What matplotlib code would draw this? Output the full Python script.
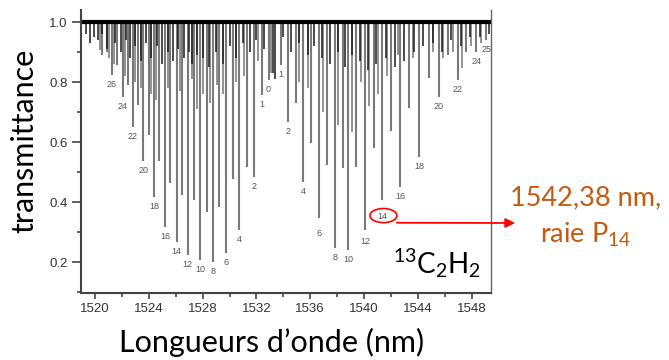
import matplotlib
matplotlib.use('Agg')
import matplotlib.pyplot as plt
from matplotlib.patches import Ellipse

# R branch (short wavelengths), J = 0..28
r_j = list(range(29))
r_wl = [1532.90, 1532.39, 1531.80, 1531.27, 1530.72, 1530.25, 1529.75, 1529.25,
        1528.78, 1528.33, 1527.84, 1527.39, 1526.89, 1526.47, 1526.07, 1525.60,
        1525.22, 1524.78, 1524.38, 1523.98, 1523.60, 1523.19, 1522.79, 1522.44,
        1522.06, 1521.67, 1521.25, 1520.90, 1520.50]
r_tr = [0.807, 0.757, 0.484, 0.518, 0.307, 0.477, 0.229, 0.384,
        0.201, 0.368, 0.207, 0.407, 0.223, 0.423, 0.268, 0.462,
        0.318, 0.538, 0.418, 0.623, 0.538, 0.723, 0.651, 0.790,
        0.751, 0.857, 0.823, 0.900, 0.890]
r_labelled = [0, 1, 2, 4, 6, 8, 10, 12, 14, 16, 18, 20, 22, 24, 26]

# P branch (long wavelengths), J = 1..25
p_j = list(range(1, 26))
p_wl = [1533.81, 1534.38, 1534.93, 1535.50, 1536.04, 1536.64, 1537.24, 1537.86,
        1538.41, 1538.83, 1539.43, 1540.07, 1540.72, 1541.34, 1542.00, 1542.69,
        1543.38, 1544.08, 1544.80, 1545.54, 1546.24, 1546.96, 1547.60, 1548.36,
        1549.10]
p_tr = [0.857, 0.668, 0.730, 0.468, 0.597, 0.347, 0.523, 0.246,
        0.513, 0.240, 0.518, 0.307, 0.579, 0.407, 0.637, 0.451,
        0.712, 0.551, 0.812, 0.751, 0.890, 0.807, 0.900, 0.900,
        0.940]
p_labelled = [1, 2, 4, 6, 8, 10, 12, 14, 16, 18, 20, 22, 24, 25]

# weaker (hot band) lines, grey, medium depth
sec_wl = [1520.37, 1521.02, 1521.45, 1522.25, 1522.95, 1523.40, 1524.15, 1524.55,
          1525.40, 1526.30, 1527.19, 1527.56, 1528.05, 1528.55, 1529.05, 1529.50,
          1530.45, 1531.05, 1532.10, 1533.05, 1535.20, 1535.80, 1536.98, 1538.09,
          1539.09, 1539.76, 1540.40, 1541.05, 1541.70, 1542.55, 1543.67, 1545.10,
          1545.90, 1546.60, 1547.26, 1547.95, 1548.70]
sec_tr = [0.907, 0.880, 0.860, 0.820, 0.800, 0.780, 0.760, 0.740,
          0.780, 0.770, 0.810, 0.710, 0.760, 0.730, 0.790, 0.760,
          0.800, 0.820, 0.870, 0.830, 0.800, 0.780, 0.700, 0.657,
          0.634, 0.800, 0.720, 0.760, 0.820, 0.890, 0.879, 0.900,
          0.880, 0.900, 0.846, 0.920, 0.930]

# very weak lines crowding the baseline, black
hot_wl = [1519.30, 1519.60, 1519.90, 1520.20, 1520.50, 1520.90, 1521.50, 1521.90,
          1522.30, 1522.60, 1523.00, 1523.40, 1523.80, 1524.20, 1524.60, 1525.00,
          1525.40, 1525.80, 1526.20, 1526.60, 1527.00, 1527.20, 1527.60, 1528.00,
          1528.50, 1529.00, 1529.50, 1530.00, 1530.50, 1531.00, 1531.50, 1532.00,
          1532.60, 1533.20, 1533.35, 1534.00, 1534.60, 1535.20, 1535.80, 1536.30,
          1536.90, 1537.50, 1538.10, 1538.60, 1539.10, 1539.70, 1540.30, 1540.90,
          1541.60, 1542.30, 1543.00, 1543.70, 1544.40, 1545.10, 1545.80, 1546.50,
          1547.20, 1547.90, 1548.60, 1549.30]
hot_tr = [0.96, 0.93, 0.95, 0.94, 0.96, 0.91, 0.93, 0.90,
          0.94, 0.88, 0.92, 0.87, 0.93, 0.88, 0.92, 0.86,
          0.90, 0.87, 0.91, 0.88, 0.90, 0.86, 0.89, 0.88,
          0.85, 0.90, 0.86, 0.92, 0.88, 0.93, 0.90, 0.94,
          0.91, 0.83, 0.81, 0.95, 0.90, 0.93, 0.89, 0.92,
          0.88, 0.86, 0.90, 0.85, 0.89, 0.87, 0.84, 0.86,
          0.88, 0.85, 0.87, 0.90, 0.92, 0.93, 0.90, 0.94,
          0.92, 0.95, 0.95, 0.96]

x_ticks = [1520, 1524, 1528, 1532, 1536, 1540, 1544, 1548]
y_ticks = [0.2, 0.4, 0.6, 0.8, 1.0]

W, H = 669, 360
fig = plt.figure(figsize=(W / 100, H / 100), dpi=100)
ax = fig.add_axes([81 / W, 1 - 293 / H, 410 / W, 283 / H])

ax.vlines(sec_wl, sec_tr, 1.0, color='#8a8a8a', lw=1.3)
ax.vlines(r_wl, r_tr, 1.0, color='#7a7a7a', lw=1.5)
ax.vlines(p_wl, p_tr, 1.0, color='#7a7a7a', lw=1.5)
ax.vlines(hot_wl, hot_tr, 1.0, color='#1a1a1a', lw=1.1)
ax.axhline(1.0, color='black', lw=3)

extra_drop = {('P', 14): -9, ('P', 6): -8, ('P', 12): -5}
for branch, js, wls, trs, lab in [('R', r_j, r_wl, r_tr, r_labelled),
                                  ('P', p_j, p_wl, p_tr, p_labelled)]:
    for j, wl, tr in zip(js, wls, trs):
        if j in lab:
            dy = extra_drop.get((branch, j), -3.5)
            ax.annotate(str(j), (wl, tr), xytext=(0, dy), textcoords='offset points',
                        ha='center', va='top', fontsize=6.5, color='#555555',
                        family='Liberation Sans')

ax.set_xlim(1518.96, 1549.44)
ax.set_ylim(0.097, 1.04)
ax.set_xticks(x_ticks)
ax.set_xticks(range(1520, 1550, 2), minor=True)
ax.set_yticks(y_ticks)
ax.set_yticks([0.1, 0.3, 0.5, 0.7, 0.9], minor=True)
ax.set_yticklabels(['%.1f' % v for v in y_ticks])
for lbl in ax.get_xticklabels() + ax.get_yticklabels():
    lbl.set_family('Liberation Sans')
    lbl.set_fontsize(9.5)
    lbl.set_color('#333333')
ax.tick_params(axis='x', which='major', length=4.5, width=1.2, color='#444444', pad=3)
ax.tick_params(axis='x', which='minor', length=3, width=1.2, color='#444444')
ax.tick_params(axis='y', which='major', length=6.5, width=1.2, color='#444444', pad=3)
ax.tick_params(axis='y', which='minor', length=3, width=1.2, color='#444444')
ax.spines['top'].set_visible(False)
ax.spines['left'].set_linewidth(1.5)
ax.spines['bottom'].set_linewidth(1.5)
ax.spines['left'].set_color('#444444')
ax.spines['bottom'].set_color('#444444')
ax.spines['right'].set_color('#666666')
ax.spines['right'].set_linewidth(1.0)

# highlighted line P14
i14 = p_j.index(14)
ax.add_patch(Ellipse((p_wl[i14] + 0.1, p_tr[i14] - 0.052), 2.0, 0.047,
                     fill=False, ec='red', lw=1.2))
ax.annotate('', xy=(515 / W, 1 - 223 / H), xycoords='figure fraction',
            xytext=(p_wl[i14] + 1.1, p_tr[i14] - 0.076), textcoords='data',
            arrowprops=dict(arrowstyle='-|>', color='red', lw=1.3,
                            mutation_scale=14, shrinkA=0, shrinkB=0))

orange = '#C55A11'
fig.text(586 / W, 1 - 205 / H, '1542,38 nm,', ha='center', va='baseline',
         color=orange, fontsize=19.5, family='Lato')
fig.text(586 / W, 1 - 243 / H, r'raie P$\mathregular{_{14}}$', ha='center',
         va='baseline', color=orange, fontsize=19.5, family='Lato')
fig.text(393 / W, 1 - 273 / H, r'$\mathregular{^{13}C_2H_2}$', ha='left',
         va='baseline', color='black', fontsize=20, family='Lato')

fig.text(24 / W, 1 - 141 / H, 'transmittance', rotation=90, ha='center',
         va='center', fontsize=22, family='Lato')
fig.text(272 / W, 1 - 352 / H, 'Longueurs d\u2019onde (nm)', ha='center',
         va='baseline', fontsize=22, family='Lato')

fig.savefig('out.png', dpi=100)
